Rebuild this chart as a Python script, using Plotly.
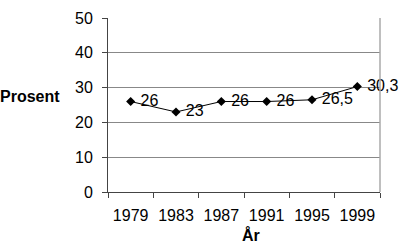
import plotly.graph_objects as go

years = ["1979", "1983", "1987", "1991", "1995", "1999"]
values = [26, 23, 26, 26, 26.5, 30.3]
labels = ["26", "23", "26", "26", "26,5", "30,3"]

FONT = "Liberation Sans, Arial, sans-serif"

fig = go.Figure()
fig.add_trace(go.Scatter(
    x=years, y=values, mode="lines+markers+text",
    text=labels, texttemplate=" %{text}", textposition="middle right",
    textfont=dict(family=FONT, size=16, color="#000"),
    line=dict(color="#000", width=1),
    marker=dict(symbol="diamond", size=7, color="#000"),
    cliponaxis=False, showlegend=False,
))

fig.update_layout(
    width=400, height=248,
    margin=dict(l=108, r=20, t=10, b=56),
    paper_bgcolor="white", plot_bgcolor="white",
    font=dict(family=FONT, size=16, color="#000"),
    xaxis=dict(type="category", range=[-0.5, 5.5], tickson="boundaries",
               ticks="outside", ticklen=5, tickcolor="#444",
               showline=True, linecolor="#444", linewidth=1,
               mirror=False, showgrid=False, zeroline=False,
               ticklabelstandoff=9, tickfont=dict(size=16)),
    yaxis=dict(range=[0, 50], dtick=10, ticks="outside", ticklen=5,
               tickcolor="#444", showline=True, linecolor="#444",
               linewidth=1, showgrid=True, gridcolor="#888", gridwidth=1,
               zeroline=False, ticklabelstandoff=6, tickfont=dict(size=16)),
    shapes=[
        dict(type="line", xref="paper", yref="paper", x0=1, x1=1, y0=0, y1=1,
             line=dict(color="#aaa", width=1.5)),
    ],
    annotations=[
        dict(text="<b>Prosent</b>", xref="paper", yref="paper", x=-0.285, y=0.55,
             xanchor="center", yanchor="middle", showarrow=False,
             font=dict(size=16)),
        dict(text="<b>År</b>", xref="paper", yref="paper", x=0.525, y=-0.245,
             xanchor="center", yanchor="middle", showarrow=False,
             font=dict(size=16)),
    ],
)

fig.write_html("out.html")
